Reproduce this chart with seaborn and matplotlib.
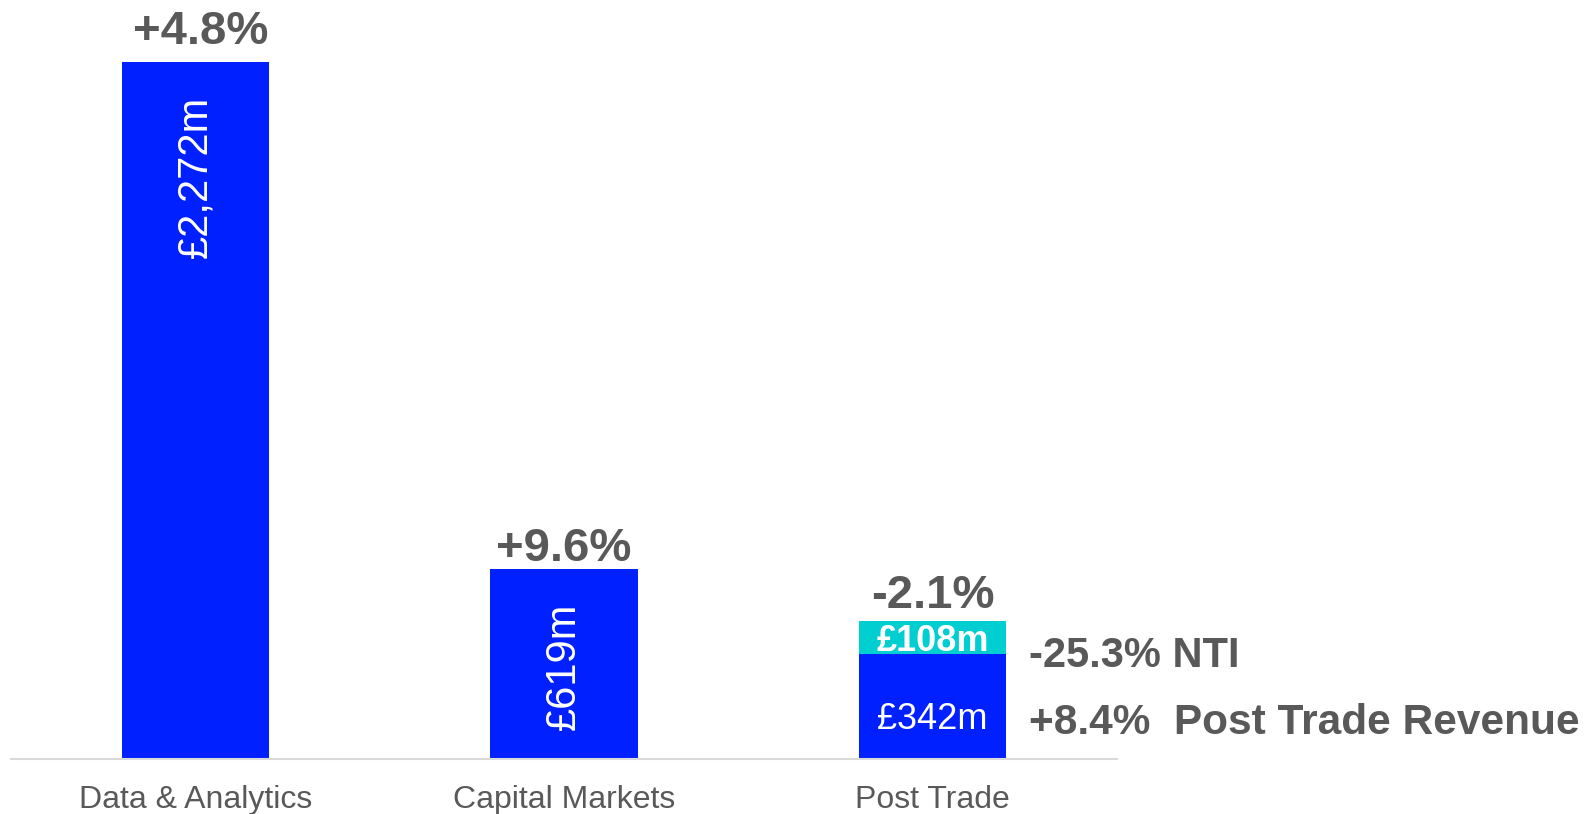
import matplotlib
matplotlib.use("Agg")
import matplotlib.pyplot as plt
import seaborn as sns
import pandas as pd

sns.set_theme(style="white")
plt.rcParams['font.family'] = ['Liberation Sans', 'DejaVu Sans']

# ---- data ----
categories = ["Data & Analytics", "Capital Markets", "Post Trade"]
base_values = [2272, 619, 342]          # £m (blue segment)
nti_values = [0, 0, 108]                 # £m (cyan segment, Post Trade NTI)
growth_labels = ["+4.8%", "+9.6%", "-2.1%"]
base_labels = ["£2,272m", "£619m", "£342m"]
nti_label = "£108m"
side_labels = ["-25.3% NTI", "+8.4%  Post Trade Revenue"]

BLUE = "#0020FF"
CYAN = "#00CED1"
GREY = "#595959"

totals = [b + n for b, n in zip(base_values, nti_values)]
df = pd.DataFrame({"cat": categories, "base": base_values, "total": totals})

fig = plt.figure(figsize=(15.85, 8.14), dpi=100)
ax = fig.add_axes([11/1585, 55/814, 1106/1585, 697/814])

sns.barplot(data=df, x="cat", y="total", color=CYAN, width=0.4, saturation=1,
            linewidth=0, edgecolor="none", ax=ax)
sns.barplot(data=df, x="cat", y="base", color=BLUE, width=0.4, saturation=1,
            linewidth=0, edgecolor="none", ax=ax)

ax.set_xlim(-0.5, 2.5)
ax.set_ylim(0, max(totals))
ax.set_xlabel("")
ax.set_ylabel("")
ax.set_yticks([])
for s in ["top", "right", "left"]:
    ax.spines[s].set_visible(False)
ax.spines["bottom"].set_color("#d9d9d9")
ax.spines["bottom"].set_linewidth(1.5)
ax.tick_params(axis="x", length=0, pad=18.5, labelsize=23, labelcolor=GREY)

# growth labels above bars
offsets = [13, 6, 9.5]
for i, (lab, tot) in enumerate(zip(growth_labels, totals)):
    ax.annotate(lab, xy=(i, tot), xytext=(4 if i == 0 else 0, offsets[i]), textcoords="offset points",
                ha="center", va="baseline", fontsize=34, fontweight="bold", color=GREY,
                annotation_clip=False)

# value labels inside bars
for i, (lab, b) in enumerate(zip(base_labels, base_values)):
    if i < 2:
        ax.annotate(lab, xy=(i, b), xytext=(0, -24), textcoords="offset points",
                    ha="center", va="top", rotation=90, fontsize=30, color="white")
    else:
        ax.annotate(lab, xy=(i, b / 2), xytext=(0, -9), textcoords="offset points",
                    ha="center", va="center", fontsize=26, color="white")

# NTI segment label
ax.annotate(nti_label, xy=(2, base_values[2] + nti_values[2] / 2), xytext=(0, -3),
            textcoords="offset points", ha="center", va="center",
            fontsize=26, fontweight="bold", color="white")

# side annotations
ax.annotate(side_labels[0], xy=(2.2, base_values[2] + nti_values[2] / 2), xytext=(16, -13),
            textcoords="offset points", ha="left", va="center", fontsize=30,
            fontweight="bold", color=GREY, annotation_clip=False)
ax.annotate(side_labels[1], xy=(2.2, base_values[2] / 2), xytext=(16, -12),
            textcoords="offset points", ha="left", va="center", fontsize=30.5,
            fontweight="bold", color=GREY, annotation_clip=False)

fig.savefig("out.png", dpi=100)
